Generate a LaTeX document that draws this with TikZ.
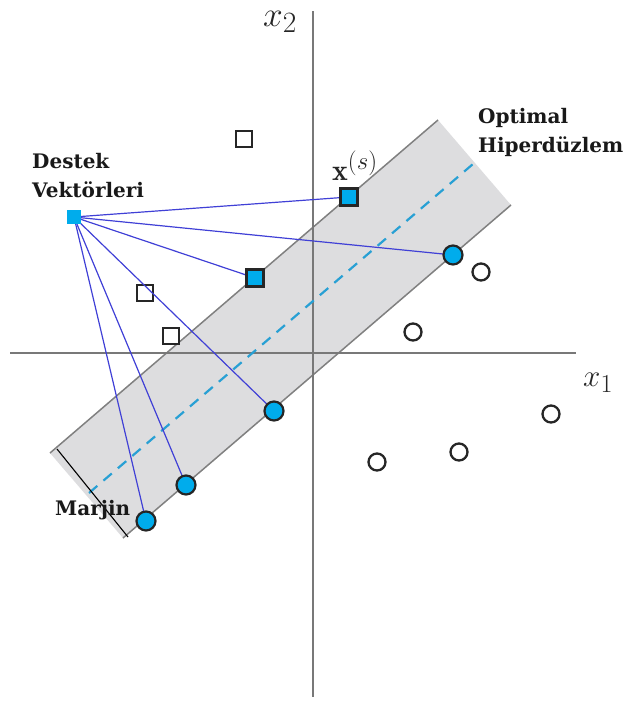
\documentclass[tikz,border=0pt]{standalone}
\usepackage{fontspec}
\newfontfamily\labfont{DejaVu Serif}
\definecolor{svcyan}{RGB}{0,172,236}
\definecolor{linkblue}{RGB}{64,64,214}
\definecolor{dashblue}{RGB}{40,160,212}
\definecolor{bandfill}{RGB}{221,221,223}
\definecolor{bandedge}{RGB}{128,128,128}
\definecolor{axisgray}{RGB}{120,120,120}
\tikzset{
  opensq/.style={rectangle,draw=black!85,line width=2.4pt,fill=white,minimum size=16pt,inner sep=0pt},
  svsq/.style={rectangle,draw=black!85,line width=2.2pt,fill=svcyan,minimum size=17pt,inner sep=0pt},
  opencirc/.style={circle,draw=black!85,line width=2.3pt,fill=white,minimum size=17pt,inner sep=0pt},
  svcirc/.style={circle,draw=black!85,line width=2.2pt,fill=svcyan,minimum size=19pt,inner sep=0pt},
  legsq/.style={rectangle,fill=svcyan,minimum size=14pt,inner sep=0pt},
  link/.style={draw=linkblue,line width=1.2pt},
  lab/.style={font=\labfont\bfseries\fontsize{20}{28.5}\selectfont,text=black!90,inner sep=0pt,align=left},
  axislab/.style={font=\fontsize{24.88}{26}\selectfont,inner sep=0pt,text=black!85}
}
\begin{document}
\begin{tikzpicture}[x=1pt,y=-1pt]
\useasboundingbox (0,0) rectangle (630,704);
% band
\coordinate (A) at (50,453);
\coordinate (B) at (438,120);
\coordinate (C) at (511,205);
\coordinate (D) at (123,538);
\fill[bandfill] (A) -- (B) -- (C) -- (D) -- cycle;
\draw[bandedge,line width=1.5pt] (A) -- (B);
\draw[bandedge,line width=1.5pt] (D) -- (C);
% axes
\coordinate (xl) at (10,353);
\coordinate (xr) at (576,353);
\coordinate (yt) at (313,11);
\coordinate (yb) at (313,697);
\draw[axisgray,line width=1.9pt] (xl) -- (xr);
\draw[axisgray,line width=1.9pt] (yt) -- (yb);
% centre line
\coordinate (m1) at (89,493);
\coordinate (m2) at (473,164);
\draw[dashblue,line width=2.2pt,dash pattern=on 11pt off 8pt] (m1) -- (m2);
% margin marker
\coordinate (g1) at (57,449);
\coordinate (g2) at (128,537);
\draw[black,line width=1.1pt] (g1) -- (g2);
% points
\node[opensq] (q1) at (244,139) {};
\node[opensq] (q2) at (145,293) {};
\node[opensq] (q3) at (171,336) {};
\node[opencirc] (o1) at (481,272) {};
\node[opencirc] (o2) at (413,332) {};
\node[opencirc] (o3) at (551,414) {};
\node[opencirc] (o4) at (459,452) {};
\node[opencirc] (o5) at (377,462) {};
% connectors first, markers on top
\coordinate (legc) at (74,217);
\coordinate (s1c) at (349,197);
\coordinate (s2c) at (255,278);
\coordinate (c1c) at (453,255);
\coordinate (c2c) at (274,411);
\coordinate (c3c) at (186,485);
\coordinate (c4c) at (146,521);
\draw[link] (legc) -- (s1c);
\draw[link] (legc) -- (s2c);
\draw[link] (legc) -- (c1c);
\draw[link] (legc) -- (c2c);
\draw[link] (legc) -- (c3c);
\draw[link] (legc) -- (c4c);
\node[legsq] (leg) at (legc) {};
\node[svsq] (s1) at (s1c) {};
\node[svsq] (s2) at (s2c) {};
\node[svcirc] (c1) at (c1c) {};
\node[svcirc] (c2) at (c2c) {};
\node[svcirc] (c3) at (c3c) {};
\node[svcirc] (c4) at (c4c) {};
% labels
\node[lab,anchor=base west] (t1) at (32,197) {Destek\\Vektörleri};
\node[lab,anchor=base west] (t2) at (478,152) {Optimal\\Hiperdüzlem};
\node[lab,anchor=base west] (t3) at (55,515) {Marjin};
\node[axislab,anchor=base west] (xs) at (332,180) {\scalebox{1.2}{$\mathbf{x}^{(s)}$}};
\node[axislab,anchor=base west] (x2) at (263,26) {\scalebox{1.42}{$x_2$}};
\node[axislab,anchor=base west] (x1) at (583,386) {\scalebox{1.25}{$x_1$}};
\end{tikzpicture}
\end{document}
